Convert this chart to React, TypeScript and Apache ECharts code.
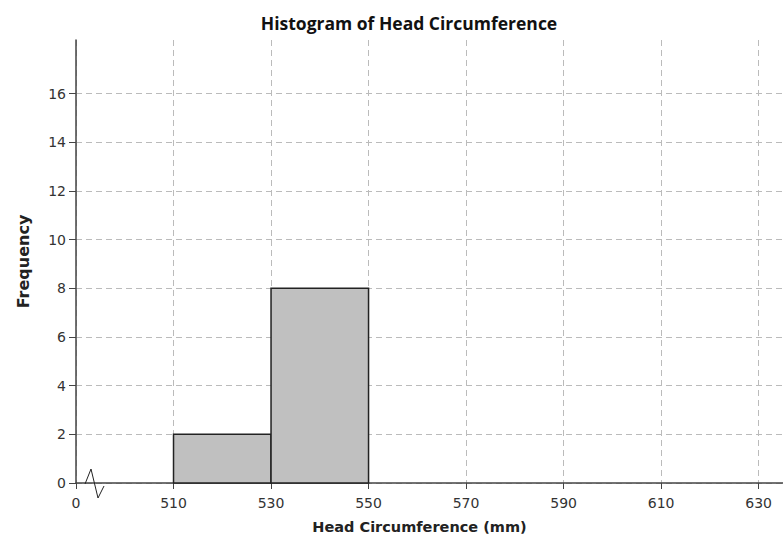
import React, { useEffect, useRef } from "react";
import * as echarts from "echarts";

const binStarts = [510, 530];
const binEnds = [530, 550];
const frequencies = [2, 8];
const xTicks = [490, 510, 530, 550, 570, 590, 610, 630];
const yTicks = [0, 2, 4, 6, 8, 10, 12, 14, 16];

export default function App() {
  const ref = useRef<HTMLDivElement>(null);
  useEffect(() => {
    if (!ref.current) return;
    const chart = echarts.init(ref.current, null, { renderer: "svg" });
    const data = binStarts.map((s, i) => [s, binEnds[i], frequencies[i]]);
    chart.setOption({
      animation: false,
      backgroundColor: "#ffffff",
      title: {
        text: "Histogram of Head Circumference",
        left: 404,
        textAlign: "center",
        top: 9,
        textStyle: { fontFamily: "Open Sans", fontWeight: "bold", fontSize: 17.5, color: "#111" },
      },
      grid: { left: 76, right: 0, top: 40, bottom: 55 },
      xAxis: {
        type: "value",
        min: 490,
        max: 635,
        interval: 20,
        name: "Head Circumference (mm)",
        nameLocation: "middle",
        nameGap: 36,
        nameTextStyle: { fontFamily: "DejaVu Sans", fontWeight: "bold", fontSize: 14.5, color: "#222", padding: [0, 20, 0, 0] },
        axisLine: { lineStyle: { color: "#444", width: 1.5 } },
        axisTick: { show: true, customValues: xTicks, length: 6, lineStyle: { color: "#444" } },
        axisLabel: {
          customValues: xTicks,
          formatter: (v: number) => (v === 490 ? "0" : String(v)),
          fontFamily: "DejaVu Sans",
          fontSize: 14,
          color: "#333",
          margin: 13,
        },
        splitLine: { show: true, lineStyle: { color: "#bbb", type: [6, 4] } },
      },
      yAxis: {
        type: "value",
        min: 0,
        max: 18.2,
        interval: 2,
        name: "Frequency",
        nameLocation: "middle",
        nameGap: 45,
        nameTextStyle: { fontFamily: "DejaVu Sans", fontWeight: "bold", fontSize: 16, color: "#222" },
        axisLine: { show: true, lineStyle: { color: "#444", width: 1.5 } },
        axisTick: { show: true, customValues: yTicks, length: 7, lineStyle: { color: "#444" } },
        axisLabel: {
          customValues: yTicks,
          fontFamily: "DejaVu Sans",
          fontSize: 14,
          color: "#333",
          margin: 10,
        },
        splitLine: { show: true, lineStyle: { color: "#bbb", type: [6, 4] } },
      },
      series: [
        {
          type: "custom",
          data,
          encode: { x: [0, 1], y: 2 },
          renderItem: (params: any, api: any) => {
            const p0 = api.coord([api.value(0), api.value(2)]);
            const p1 = api.coord([api.value(1), 0]);
            return {
              type: "rect",
              shape: { x: p0[0], y: p0[1], width: p1[0] - p0[0], height: p1[1] - p0[1] },
              style: { fill: "#c0c0c0", stroke: "#222", lineWidth: 1.5 },
            };
          },
        },
      ],
      graphic: [
        {
          type: "polyline",
          shape: { points: [[85, 484], [91, 469], [98, 498], [104, 486]] },
          style: { stroke: "#222", lineWidth: 1, fill: null },
          z: 101,
        },
      ],
    });
    return () => chart.dispose();
  }, []);
  return <div ref={ref} style={{ width: 783, height: 539, position: "absolute", left: 0, top: 0 }} />;
}
